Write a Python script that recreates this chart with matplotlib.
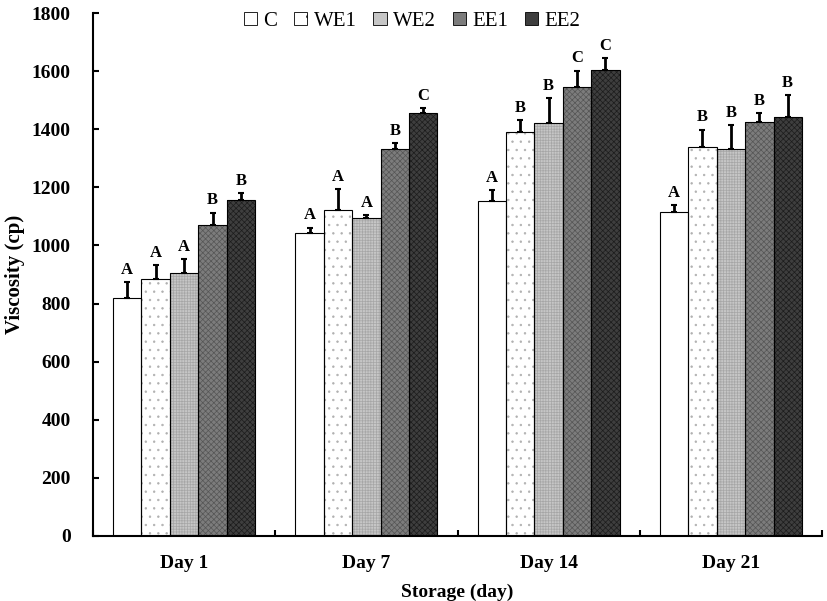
import matplotlib
matplotlib.use("Agg")
import matplotlib.pyplot as plt
from matplotlib.patches import Patch
import numpy as np

plt.rcParams['font.family'] = ['Liberation Serif', 'DejaVu Serif']
plt.rcParams['hatch.linewidth'] = 0.5

days = ["Day 1", "Day 7", "Day 14", "Day 21"]
series = ["C", "WE1", "WE2", "EE1", "EE2"]
values = {
    "C":   [818, 1044, 1154, 1114],
    "WE1": [884, 1122, 1389, 1340],
    "WE2": [906, 1094, 1423, 1333],
    "EE1": [1070, 1333, 1545, 1424],
    "EE2": [1156, 1456, 1604, 1442],
}
errors = {
    "C":   [55, 17, 37, 25],
    "WE1": [49, 71, 43, 59],
    "WE2": [46, 11, 83, 81],
    "EE1": [43, 20, 57, 31],
    "EE2": [23, 16, 40, 76],
}
letters = {
    "C":   ["A", "A", "A", "A"],
    "WE1": ["A", "A", "B", "B"],
    "WE2": ["A", "A", "B", "B"],
    "EE1": ["B", "B", "C", "B"],
    "EE2": ["B", "C", "C", "B"],
}
yticks = [0, 200, 400, 600, 800, 1000, 1200, 1400, 1600, 1800]

styles = {
    "C":   dict(face="white",   hatch=None,       hcol="white",   lh=None),
    "WE1": dict(face="white",   hatch="..",       hcol="#b0b0b0", lh="."),
    "WE2": dict(face="#c6c6c6", hatch="++++++",   hcol="#a6a6a6", lh=None),
    "EE1": dict(face="#7c7c7c", hatch="xxxxxx",   hcol="#555555", lh=None),
    "EE2": dict(face="#3e3e3e", hatch="xxxxxx",   hcol="#1c1c1c", lh=None),
}

fig = plt.figure(figsize=(8.27, 6.01), dpi=100)
ax = fig.add_axes([93/827, 65/601, (822-93)/827, (536-13)/601])

x = np.arange(len(days))
width = 0.156
for i, s in enumerate(series):
    pos = x + (i - 2) * width
    st = styles[s]
    ax.bar(pos, values[s], width, color=st["face"], hatch=st["hatch"],
           edgecolor=st["hcol"], linewidth=0, zorder=2)
    ax.bar(pos, values[s], width, fill=False, edgecolor="black",
           linewidth=0.8, zorder=3)
    ax.errorbar(pos, values[s], yerr=[np.zeros(len(days)), errors[s]],
                fmt="none", ecolor="black", elinewidth=2, capsize=2.5,
                capthick=1.5, zorder=4)
    for p, v, e, l in zip(pos, values[s], errors[s], letters[s]):
        ax.annotate(l, (p, v + e), xytext=(0, 6), textcoords="offset points",
                    ha="center", va="baseline", fontsize=12, fontweight="bold")

ax.set_xlim(-0.5, 3.5)
ax.set_ylim(0, 1800)
ax.set_yticks(yticks)
ax.set_yticklabels([str(t) for t in yticks], fontsize=14, fontweight="bold")
ax.set_xticks(x)
ax.set_xticklabels(days, fontsize=14, fontweight="bold")
ax.set_xticks(np.arange(-0.5, 4.0, 1.0), minor=True)
ax.tick_params(axis="x", which="major", length=0, pad=14)
ax.tick_params(axis="x", which="minor", direction="in", length=4, width=1.5)
ax.tick_params(axis="y", direction="in", length=4, width=1.5, pad=16)
for sp in ["top", "right"]:
    ax.spines[sp].set_visible(False)
for sp in ["left", "bottom"]:
    ax.spines[sp].set_linewidth(1.5)

ax.set_ylabel("Viscosity (cp)", fontsize=15, fontweight="bold", labelpad=5)
ax.set_xlabel("Storage (day)", fontsize=14, fontweight="bold", labelpad=8)

handles = [Patch(facecolor=styles[s]["face"], hatch=styles[s]["lh"],
                 edgecolor="black", linewidth=0.6) for s in series]
fig.legend(handles, series, loc="upper center", bbox_to_anchor=(412/827, 1.012),
           ncol=5, frameon=False, fontsize=15, handlelength=0.65,
           handleheight=0.65, handletextpad=0.3, columnspacing=0.8)

fig.savefig("out.png", dpi=100)
